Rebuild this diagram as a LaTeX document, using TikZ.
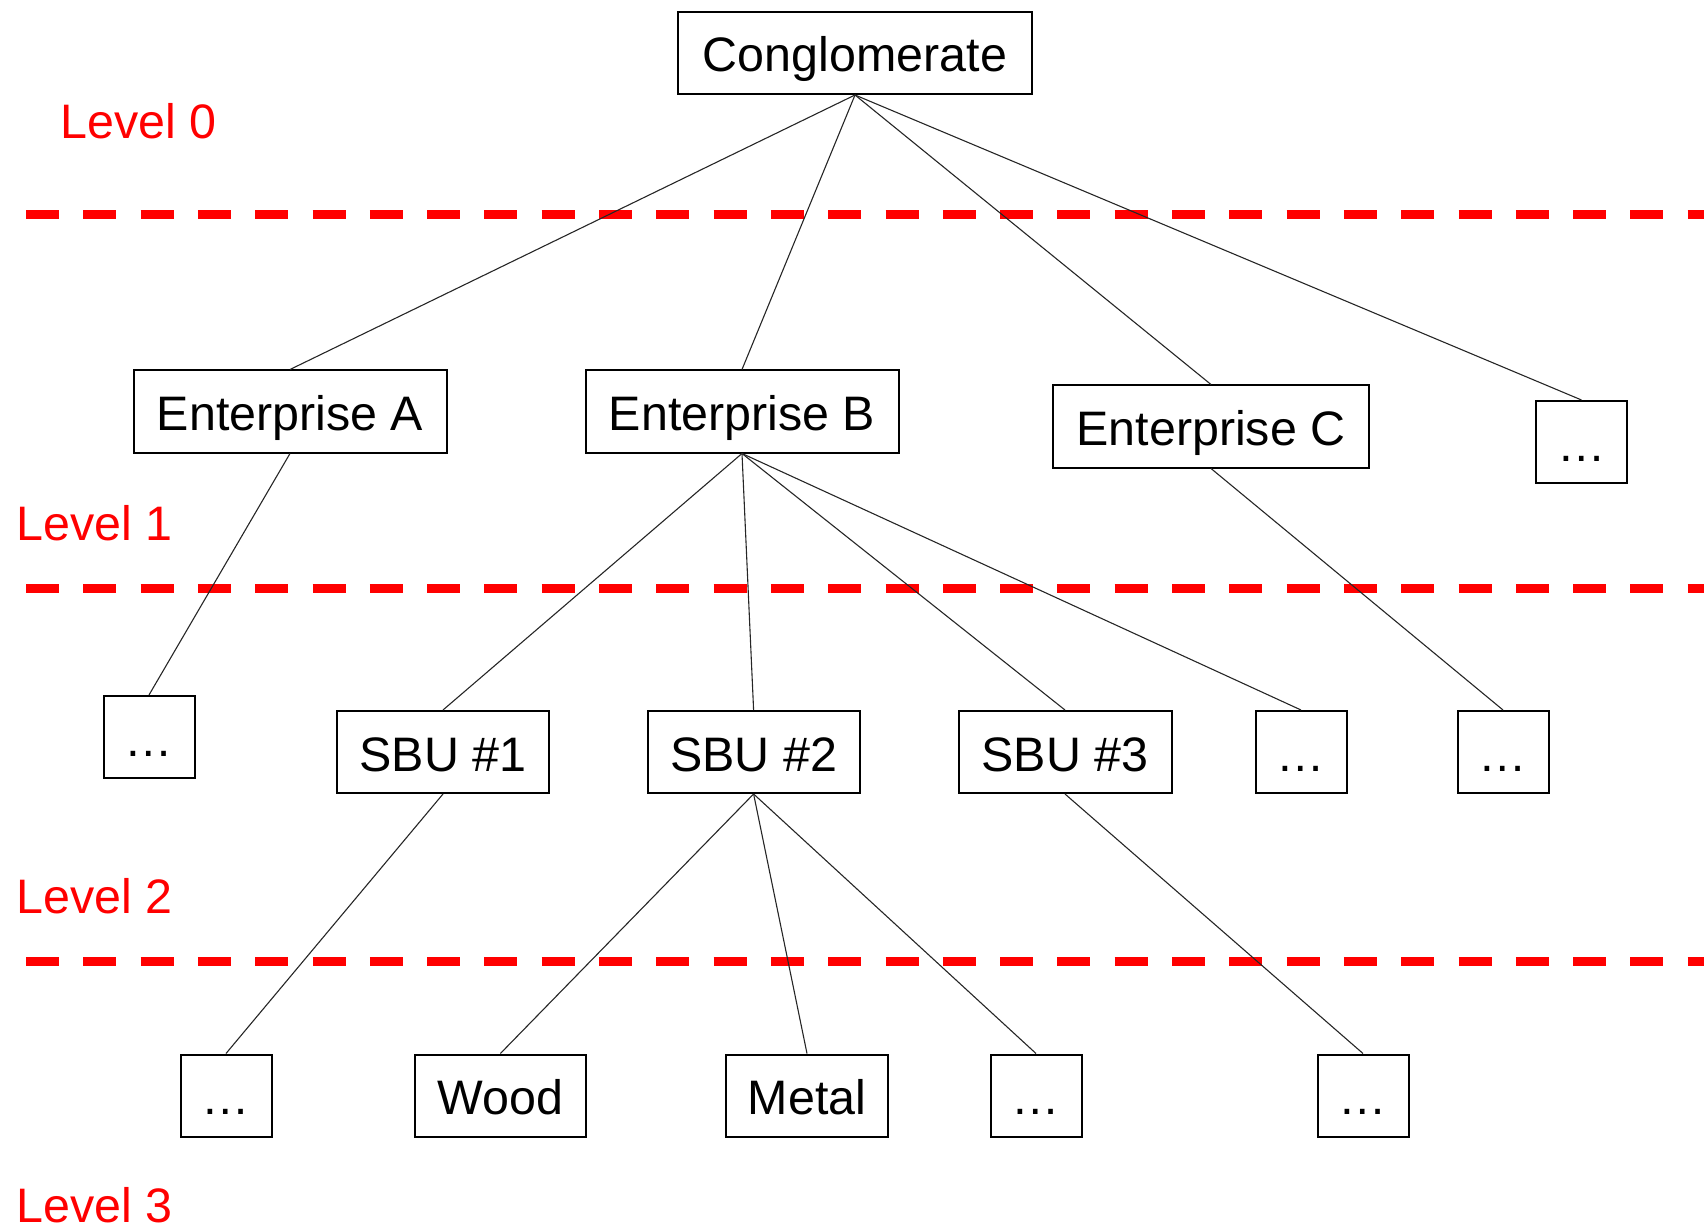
\documentclass[tikz,border=0pt]{standalone}
\usepackage{fontspec}
\setmainfont{Liberation Sans}
\begin{document}
\begin{tikzpicture}[x=0.5pt,y=-0.5pt,
  box/.style={draw=black, line width=1pt, inner sep=0pt, minimum height=41pt,
    text height=19pt, text depth=0pt, font=\fontsize{24.2}{29}\selectfont},
  link/.style={draw=black!85, line width=0.55pt},
  levellabel/.style={anchor=base west, inner sep=0pt, text=red,
    font=\fontsize{24.2}{29}\selectfont},
  divider/.style={draw=red, line width=4.5pt, dash pattern=on 16.5pt off 12.15pt}]
\useasboundingbox (0,0) rectangle (1704,1230);

% level separators
\draw[divider] (26,215) -- (1704,215);
\draw[divider] (26,588) -- (1704,588);
\draw[divider] (26,961) -- (1704,961);

% level captions
\node[levellabel] (lv0) at (60,139) {Level 0};
\node[levellabel] (lv1) at (16,540) {Level 1};
\node[levellabel] (lv2) at (16,913) {Level 2};
\node[levellabel] (lv3) at (16,1222) {Level 3};

% level 0
\node[box, minimum width=177pt] (cong) at (855,53) {Conglomerate};

% level 1
\node[box, minimum width=156.5pt] (entA) at (290,411.5) {Enterprise A};
\node[box, minimum width=156.5pt] (entB) at (742,411.5) {Enterprise B};
\node[box, minimum width=158pt] (entC) at (1211,426.5) {Enterprise C};
\node[box, minimum width=45.5pt] (more1) at (1581.5,442) {…};

% level 2
\node[box, minimum width=45.5pt] (moreA) at (149,737) {…};
\node[box, minimum width=106pt] (sbu1) at (443,752) {SBU \#1};
\node[box, minimum width=106pt] (sbu2) at (753.6,752) {SBU \#2};
\node[box, minimum width=106.5pt] (sbu3) at (1065,752) {SBU \#3};
\node[box, minimum width=45.5pt] (moreB) at (1301,752) {…};
\node[box, minimum width=45.5pt] (moreC) at (1503,752) {…};

% level 3
\node[box, minimum width=45.5pt] (more11) at (226,1095.5) {…};
\node[box, minimum width=85.3pt] (wood) at (500.4,1095.5) {Wood};
\node[box, minimum width=81pt] (metal) at (807,1095.5) {Metal};
\node[box, minimum width=45.5pt] (more22) at (1036,1095.5) {…};
\node[box, minimum width=45.5pt] (more33) at (1363,1095.5) {…};

% connectors
\draw[link] (cong.south) -- (entA.north);
\draw[link] (cong.south) -- (entB.north);
\draw[link] (cong.south) -- (entC.north);
\draw[link] (cong.south) -- (more1.north);
\draw[link] (entA.south) -- (moreA.north);
\draw[link] (entB.south) -- (sbu1.north);
\draw[link] (entB.south) -- (sbu2.north);
\draw[link] (entB.south) -- (sbu3.north);
\draw[link] (entB.south) -- (moreB.north);
\draw[link] (entC.south) -- (moreC.north);
\draw[link] (sbu1.south) -- (more11.north);
\draw[link] (sbu2.south) -- (wood.north);
\draw[link] (sbu2.south) -- (metal.north);
\draw[link] (sbu2.south) -- (more22.north);
\draw[link] (sbu3.south) -- (more33.north);
\end{tikzpicture}
\end{document}
